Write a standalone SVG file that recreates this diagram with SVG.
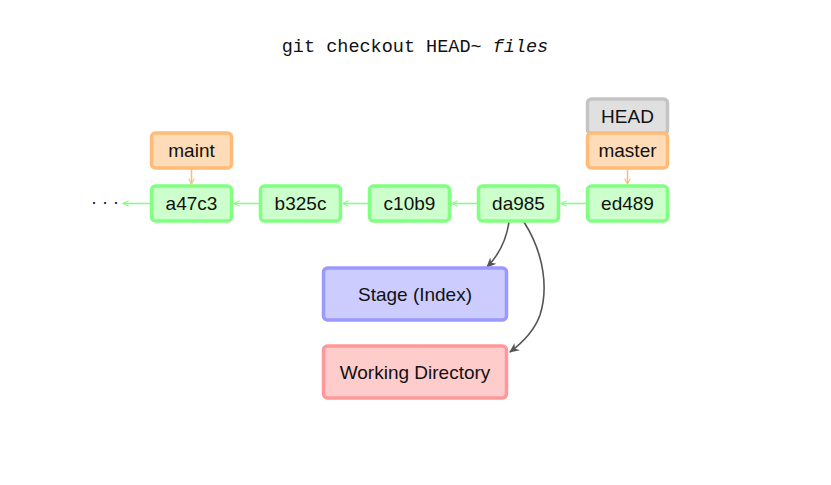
<svg xmlns="http://www.w3.org/2000/svg" width="831" height="485" viewBox="0 0 831 485">
<defs>
<style>
.c rect{fill:#ccffcc;stroke:#80ff80;stroke-width:3.5}
.b rect{fill:#ffdcb8;stroke:#ffbb77;stroke-width:3.5}
.h rect{fill:#e0e0e0;stroke:#c4c4c4;stroke-width:3.5}
.s rect{fill:#ccccff;stroke:#9999ff;stroke-width:3.5}
.w rect{fill:#ffcccc;stroke:#ff9999;stroke-width:3.5}
text{font-family:"Liberation Sans",Arial,sans-serif;font-size:19px;fill:#111;text-anchor:middle}
.t{font-family:"Liberation Mono","DejaVu Sans Mono",monospace;font-size:18.5px}
.ga{stroke:#80ff80;stroke-width:1.5;fill:none;marker-end:url(#mg)}
.oa{stroke:#ffbb77;stroke-width:1.5;fill:none;marker-end:url(#mo)}
.da{stroke:#555;stroke-width:1.6;fill:none;marker-end:url(#md)}
</style>
<marker id="mg" viewBox="0 0 10 10" refX="9" refY="5" markerWidth="7" markerHeight="7" markerUnits="userSpaceOnUse" orient="auto"><path d="M1,1 L9,5 L1,9" fill="none" stroke="#80ff80" stroke-width="1.5"/></marker>
<marker id="mo" viewBox="0 0 10 10" refX="9" refY="5" markerWidth="7" markerHeight="7" markerUnits="userSpaceOnUse" orient="auto"><path d="M1,1 L9,5 L1,9" fill="none" stroke="#ffbb77" stroke-width="1.5"/></marker>
<marker id="md" viewBox="0 0 10 10" refX="9" refY="5" markerWidth="10" markerHeight="10" markerUnits="userSpaceOnUse" orient="auto"><path d="M0,0.5 L10,5 L0,9.5 L3,5 Z" fill="#555"/></marker>
</defs>
<rect width="831" height="485" fill="#fff"/>
<text class="t" x="415" y="52">git checkout HEAD~ <tspan font-style="italic">files</tspan></text>
<g id="connectors">
<line class="ga" x1="150" y1="203.5" x2="123" y2="203.5"/>
<line class="ga" x1="259" y1="203.5" x2="234" y2="203.5"/>
<line class="ga" x1="368" y1="203.5" x2="343" y2="203.5"/>
<line class="ga" x1="477" y1="203.5" x2="452" y2="203.5"/>
<line class="ga" x1="586" y1="203.5" x2="561" y2="203.5"/>
<line class="oa" x1="191.5" y1="169" x2="191.5" y2="184"/>
<line class="oa" x1="627.5" y1="169" x2="627.5" y2="184"/>
<path class="da" d="M509,222 C506,242 498,256 487,267"/>
<path class="da" d="M524,222 C545,255 548,290 540,315 C534,332 522,343 510,352"/>
</g>
<text x="105" y="208" style="font-size:18px">· · ·</text>
<g id="a47c3" class="c"><rect x="151.5" y="186" width="80" height="35" rx="4"/><text x="191.5" y="210">a47c3</text></g>
<g id="b325c" class="c"><rect x="260.5" y="186" width="80" height="35" rx="4"/><text x="300.5" y="210">b325c</text></g>
<g id="c10b9" class="c"><rect x="369.5" y="186" width="80" height="35" rx="4"/><text x="409.5" y="210">c10b9</text></g>
<g id="da985" class="c"><rect x="478.5" y="186" width="80" height="35" rx="4"/><text x="518.5" y="210">da985</text></g>
<g id="ed489" class="c"><rect x="587.5" y="186" width="80" height="35" rx="4"/><text x="627.5" y="210">ed489</text></g>
<g id="maint" class="b"><rect x="151.5" y="133" width="80" height="35" rx="4"/><text x="191.5" y="157">maint</text></g>
<g id="HEAD" class="h"><rect x="587.5" y="99" width="80" height="35" rx="4"/><text x="627.5" y="123">HEAD</text></g>
<g id="master" class="b"><rect x="587.5" y="133" width="80" height="35" rx="4"/><text x="627.5" y="157">master</text></g>
<g id="stage" class="s"><rect x="323.5" y="268" width="183" height="52" rx="4"/><text x="415" y="301">Stage (Index)</text></g>
<g id="workdir" class="w"><rect x="323.5" y="346" width="183" height="52" rx="4"/><text x="415" y="379">Working Directory</text></g>
</svg>
